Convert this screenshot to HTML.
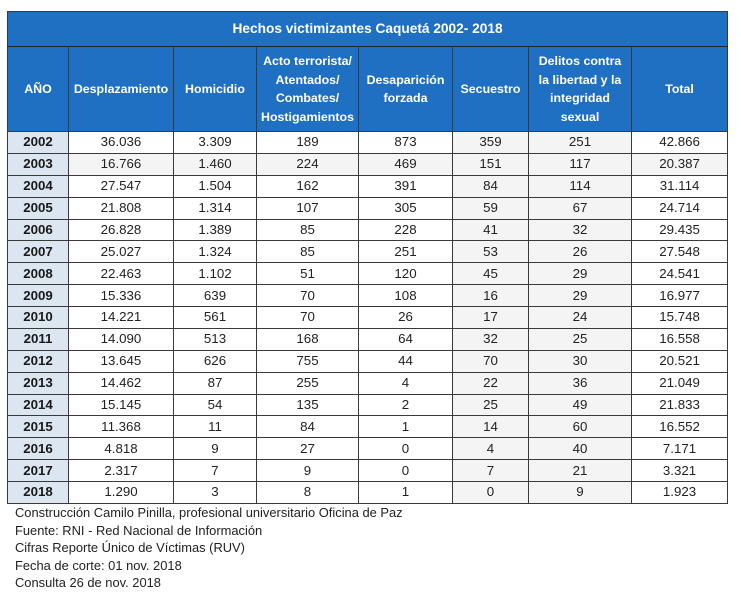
<!DOCTYPE html>
<html><head><meta charset="utf-8">
<style>
html,body{margin:0;padding:0;background:#fff;}
body{width:741px;height:593px;position:relative;overflow:hidden;font-family:"Liberation Sans",Arial,sans-serif;}
table{position:absolute;left:7px;top:11px;border-collapse:collapse;table-layout:fixed;width:720px;}
td,th{border:1px solid #3a3a3a;padding:0;text-align:center;vertical-align:middle;}
th{background:#1f6fc3;color:#fff;font-weight:bold;font-size:12.4px;line-height:18.5px;}
tr.title th{height:34px;font-size:13.7px;border-bottom:1px solid #222;}
tr.head th{height:84px;}
td{font-size:13.3px;color:#222;height:20.88px;line-height:16px;background:#fff;}
td.y{background:#dce6f1;font-weight:bold;color:#1a1a1a;}
td.g{background:#f4f4f4;}
.foot{position:absolute;left:15px;top:504px;font-size:12.9px;line-height:17.5px;color:#222;}
</style></head><body>
<table>
<colgroup><col style="width:61px"><col style="width:105px"><col style="width:83px"><col style="width:102px"><col style="width:94px"><col style="width:76px"><col style="width:103px"><col style="width:96px"></colgroup>
<tr class="title"><th colspan="8">Hechos victimizantes Caquetá 2002- 2018</th></tr>
<tr class="head"><th>AÑO</th><th>Desplazamiento</th><th>Homicidio</th><th>Acto terrorista/<br>Atentados/<br>Combates/<br>Hostigamientos</th><th>Desaparición<br>forzada</th><th>Secuestro</th><th>Delitos contra<br>la libertad y la<br>integridad<br>sexual</th><th>Total</th></tr>
<tr><td class="y">2002</td><td>36.036</td><td>3.309</td><td>189</td><td>873</td><td class="g">359</td><td class="g">251</td><td>42.866</td></tr>
<tr><td class="y">2003</td><td class="g">16.766</td><td class="g">1.460</td><td class="g">224</td><td class="g">469</td><td class="g">151</td><td class="g">117</td><td class="g">20.387</td></tr>
<tr><td class="y">2004</td><td>27.547</td><td>1.504</td><td>162</td><td>391</td><td class="g">84</td><td class="g">114</td><td>31.114</td></tr>
<tr><td class="y">2005</td><td>21.808</td><td>1.314</td><td>107</td><td>305</td><td class="g">59</td><td class="g">67</td><td>24.714</td></tr>
<tr><td class="y">2006</td><td>26.828</td><td>1.389</td><td>85</td><td>228</td><td class="g">41</td><td class="g">32</td><td>29.435</td></tr>
<tr><td class="y">2007</td><td>25.027</td><td>1.324</td><td>85</td><td>251</td><td class="g">53</td><td class="g">26</td><td>27.548</td></tr>
<tr><td class="y">2008</td><td>22.463</td><td>1.102</td><td>51</td><td>120</td><td class="g">45</td><td class="g">29</td><td>24.541</td></tr>
<tr><td class="y">2009</td><td>15.336</td><td>639</td><td>70</td><td>108</td><td class="g">16</td><td class="g">29</td><td>16.977</td></tr>
<tr><td class="y">2010</td><td>14.221</td><td>561</td><td>70</td><td>26</td><td class="g">17</td><td class="g">24</td><td>15.748</td></tr>
<tr><td class="y">2011</td><td>14.090</td><td>513</td><td>168</td><td>64</td><td class="g">32</td><td class="g">25</td><td>16.558</td></tr>
<tr><td class="y">2012</td><td>13.645</td><td>626</td><td>755</td><td>44</td><td class="g">70</td><td class="g">30</td><td>20.521</td></tr>
<tr><td class="y">2013</td><td>14.462</td><td>87</td><td>255</td><td>4</td><td class="g">22</td><td class="g">36</td><td>21.049</td></tr>
<tr><td class="y">2014</td><td>15.145</td><td>54</td><td>135</td><td>2</td><td class="g">25</td><td class="g">49</td><td>21.833</td></tr>
<tr><td class="y">2015</td><td>11.368</td><td>11</td><td>84</td><td>1</td><td class="g">14</td><td class="g">60</td><td>16.552</td></tr>
<tr><td class="y">2016</td><td>4.818</td><td>9</td><td>27</td><td>0</td><td class="g">4</td><td class="g">40</td><td>7.171</td></tr>
<tr><td class="y">2017</td><td>2.317</td><td>7</td><td>9</td><td>0</td><td class="g">7</td><td class="g">21</td><td>3.321</td></tr>
<tr><td class="y">2018</td><td>1.290</td><td>3</td><td>8</td><td>1</td><td class="g">0</td><td class="g">9</td><td>1.923</td></tr>
</table>
<div class="foot">Construcción Camilo Pinilla, profesional universitario Oficina de Paz<br>Fuente: RNI - Red Nacional de Información<br>Cifras Reporte Único de Víctimas (RUV)<br>Fecha de corte: 01 nov. 2018<br>Consulta 26 de nov. 2018</div>
</body></html>
